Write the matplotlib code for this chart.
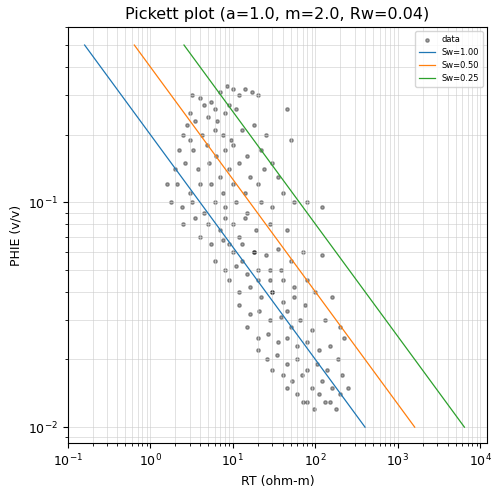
import numpy as np
import matplotlib
matplotlib.use("Agg")
import matplotlib.pyplot as plt

a, m, n, Rw = 1.0, 2.0, 2.0, 0.04
sw_values = [1.00, 0.50, 0.25]
colors = ["#1f77b4", "#ff7f0e", "#2ca02c"]

# Hand-read approximate scatter points (RT ohm-m, PHIE v/v)
rt_data = [3.2,4.0,5.5,7.0,8.5,10,12,14,17,20,9,11,6,4.5,3.0,2.8,3.5,5,6.5,8,
           2.5,3.0,4.2,6,7.5,9.5,13,18,25,45,50,2.2,3.3,4.8,6.2,8,10,15,22,30,
           2.0,2.6,3.8,5.2,7,9,12,16,24,35,1.6,2.1,3,4,5.5,7.5,10,14,20,40,
           1.8,2.4,3.2,4.5,6,8,11,15,22,30,55,80,120,2.5,3.5,5,7,10,14,19,28,45,
           4,5.5,7.5,10,13,18,25,35,50,70,6,8,11,15,20,28,38,55,80,120,
           9,12,16,22,30,40,55,75,100,160,12,16,21,28,38,50,65,90,130,200,
           15,20,27,35,45,60,80,110,150,220,20,26,34,45,60,80,105,140,190,30,
           40,52,68,90,120,160,210,45,60,80,110,150,200,250,70,95,130,180,
           9,13,20,30,45,8,12,18,28,40]
phi_data = [0.30,0.29,0.28,0.31,0.33,0.32,0.30,0.32,0.31,0.30,0.27,0.26,0.26,0.27,0.25,0.22,0.23,0.24,0.23,0.25,
            0.20,0.19,0.20,0.21,0.20,0.19,0.21,0.22,0.20,0.26,0.19,0.17,0.17,0.18,0.16,0.17,0.18,0.16,0.17,0.15,
            0.14,0.15,0.14,0.15,0.13,0.14,0.15,0.13,0.14,0.13,0.12,0.12,0.11,0.12,0.12,0.11,0.12,0.11,0.12,0.11,
            0.10,0.095,0.10,0.09,0.10,0.095,0.10,0.09,0.10,0.095,0.10,0.10,0.095,0.08,0.085,0.08,0.075,0.08,0.085,0.075,0.08,0.075,
            0.07,0.065,0.068,0.06,0.065,0.06,0.058,0.062,0.055,0.06,0.055,0.05,0.052,0.048,0.05,0.045,0.05,0.042,0.045,0.058,
            0.045,0.04,0.042,0.038,0.04,0.036,0.038,0.035,0.04,0.038,0.035,0.032,0.033,0.03,0.031,0.028,0.03,0.027,0.03,0.028,
            0.028,0.025,0.026,0.024,0.025,0.023,0.024,0.022,0.023,0.025,0.022,0.02,0.021,0.019,0.02,0.018,0.019,0.018,0.02,0.018,
            0.017,0.016,0.017,0.015,0.016,0.015,0.017,0.015,0.014,0.013,0.014,0.013,0.014,0.015,0.013,0.012,0.013,0.012,
            0.065,0.055,0.045,0.04,0.033,0.085,0.07,0.06,0.05,0.045]

plt.rcParams["font.size"] = 9
fig, ax = plt.subplots(figsize=(5.02, 4.95), dpi=100)
ax.scatter(rt_data, phi_data, s=6, c="black", alpha=0.35, label="data")
phi = np.logspace(np.log10(0.01), np.log10(0.5), 100)
for sw, c in zip(sw_values, colors):
    rt = a * Rw / (phi ** m * sw ** n)
    ax.plot(rt, phi, color=c, lw=0.9, label=f"Sw={sw:.2f}")
ax.set_xscale("log"); ax.set_yscale("log")
ax.set_xlim(0.1, 1.2e4)
ax.set_ylim(0.0085, 0.6)
ax.grid(True, which="both", color="#cccccc", lw=0.5, alpha=0.8)
ax.set_xlabel("RT (ohm-m)")
ax.set_ylabel("PHIE (v/v)")
ax.set_title("Pickett plot (a=1.0, m=2.0, Rw=0.04)", fontsize=11.5)
ax.legend(loc="upper right", fontsize=6)
fig.subplots_adjust(left=0.135, right=0.97, top=0.945, bottom=0.105)
fig.savefig("out.png", dpi=100)
